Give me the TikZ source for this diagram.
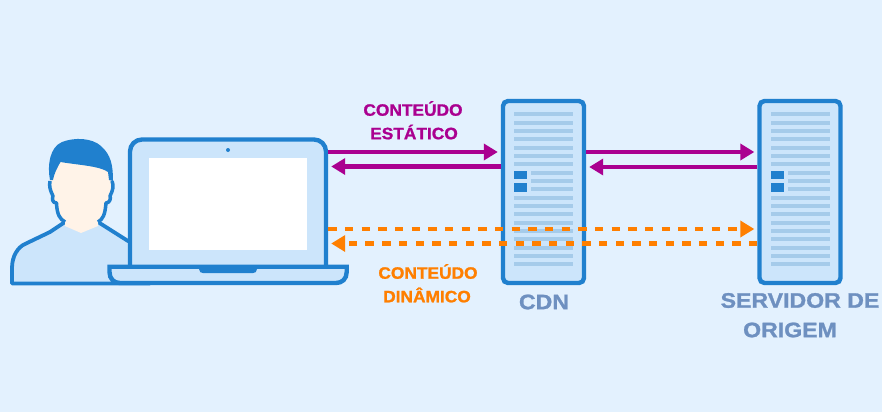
\documentclass[tikz,border=0pt]{standalone}
\usepackage{fontspec}
\newfontfamily\labelfont[FakeStretch=1.05,FakeBold=1.2]{Liberation Sans Bold}
\newfontfamily\hostfont[FakeStretch=1.1,FakeBold=1.2]{Liberation Sans Bold}
\usetikzlibrary{positioning,arrows.meta,calc}
\definecolor{bgblue}{HTML}{E3F1FE}
\definecolor{paleblue}{HTML}{CCE5FB}
\definecolor{iconblue}{HTML}{2080CE}
\definecolor{rowblue}{HTML}{A5CBEA}
\definecolor{skintone}{HTML}{FFF3E8}
\definecolor{staticpurple}{HTML}{AA0090}
\definecolor{dynorange}{HTML}{FF7F00}
\definecolor{slateblue}{HTML}{6E90C0}
\tikzset{
  outline/.style={draw=iconblue,line width=4.4pt,fill=paleblue},
  serverbox/.style={outline,rounded corners=5pt,minimum width=81pt,minimum height=182pt,inner sep=0pt},
  laptopbox/.style={outline,rounded corners=12pt,minimum width=196pt,minimum height=138.5pt,inner sep=0pt},
  staticflow/.style={draw=staticpurple,line width=4.2pt,-{Triangle[length=14pt,width=16pt]},shorten >=3pt},
  dynflow/.style={draw=dynorange,line width=4.2pt,dash pattern=on 8.4pt off 8.27pt,-{Triangle[length=14pt,width=16pt]},shorten >=3pt},
  flowlabel/.style={font=\labelfont\fontsize{16.5}{20}\selectfont,inner sep=0pt},
  hostlabel/.style={font=\hostfont\fontsize{21}{24}\selectfont,text=slateblue,inner sep=0pt},
}
\begin{document}
\begin{tikzpicture}[x=1pt,y=-1pt]
  \useasboundingbox (0,0) rectangle (882,412);
  \fill[bgblue] (0,0) rectangle (882,412);
  % person
  \draw[outline,line width=3.8pt,line join=round] (12,283.5) -- (12,268) .. controls (12,256) and (18,247) .. (25,244)
    -- (50,232) -- (65,222) -- (98,222) -- (128,241) -- (150,241) -- (150,283.5) -- cycle;
  \fill[skintone] (65,222) -- (65,226) -- (81,233) -- (98,226) -- (98,222) -- (105,215) -- (107,203)
    -- (110,200) -- (111,180) -- (108,160) -- (58,160) -- (51,180) -- (52,200) -- (55,203) -- (57,215) -- cycle;
  \draw[iconblue,line width=3.5pt,line join=round] (65,222) .. controls (60,219) and (57,215) .. (56.5,203)
    .. controls (52,203) and (52,198) .. (53,196) .. controls (50,190) and (49,186) .. (50,181);
  \draw[iconblue,line width=3.5pt,line join=round] (98,222) .. controls (103,219) and (105,215) .. (106,203)
    .. controls (110,203) and (111,198) .. (110,196) .. controls (113,190) and (114,186) .. (112,181);
  \fill[iconblue] (50,180) .. controls (47,165) and (50,147) .. (62,142) .. controls (75,137) and (92,138) .. (101,146)
    .. controls (111,155) and (113,165) .. (113,181) -- (109,180) -- (108,172) .. controls (100,166) and (78,165) .. (60.5,162)
    .. controls (57,168) and (54,174) .. (53,180) -- cycle;
  % laptop
  \node[laptopbox] (laptop) at (228,208.75) {};
  \fill[white] (149,158) rectangle (307,250);
  \fill[iconblue] (228,150) circle (2pt);
  \draw[outline] (109.5,266.7) -- (346.7,266.7) -- (346.7,272) .. controls (346.7,279) and (342,283) .. (336,283)
    -- (120,283) .. controls (114,283) and (109.5,279) .. (109.5,272) -- cycle;
  \fill[iconblue] (199,265) -- (257,265) -- (257,269) .. controls (257,272) and (255,273) .. (253,273)
    -- (203,273) .. controls (201,273) and (199,272) .. (199,269) -- cycle;
  % servers
  \foreach \sx/\sname in {543.5/cdn,800/origem}{
    \node[serverbox] (\sname) at (\sx,192) {};
    \begin{scope}[shift={(\sx,0)}]
      \foreach \row in {0,...,18}{
        \ifnum\row=7 \else\ifnum\row=8 \else\ifnum\row=9 \else
          \fill[rowblue] (-29.5,{112.3+8.33*\row}) rectangle (29.5,{116.3+8.33*\row});
        \fi\fi\fi
      }
      \foreach \row in {7,8,9}
        \fill[rowblue] (-12.5,{112.3+8.33*\row}) rectangle (29.5,{116.3+8.33*\row});
      \fill[iconblue] (-29.5,170.7) rectangle (-16.5,179);
      \fill[iconblue] (-29.5,183.3) rectangle (-16.5,191.7);
    \end{scope}
  }
  % flows
  \draw[staticflow] (laptop.east|-0,152) -- (cdn.west|-0,152);
  \draw[staticflow] (cdn.west|-0,166.5) -- (laptop.east|-0,166.5);
  \draw[staticflow] (cdn.east|-0,152) -- (origem.west|-0,152);
  \draw[staticflow] (origem.west|-0,167) -- (cdn.east|-0,167);
  \draw[dynflow] (laptop.east|-0,229) -- (origem.west|-0,229);
  \draw[dynflow] (origem.west|-0,243.5) -- (laptop.east|-0,243.5);
  % labels
  \node[flowlabel,text=staticpurple] (staticup) at (413,108.5) {CONTEÚDO};
  \node[flowlabel,text=staticpurple] (staticlow) at (414,132) {ESTÁTICO};
  \node[flowlabel,text=dynorange] (dynup) at (428,271.5) {CONTEÚDO};
  \node[flowlabel,text=dynorange] (dynlow) at (427,295) {DINÂMICO};
  \node[hostlabel] (cdnname) at (544,302) {CDN};
  \node[hostlabel] (originup) at (800,300.5) {SERVIDOR DE};
  \node[hostlabel] (originlow) at (790,330) {ORIGEM};
\end{tikzpicture}
\end{document}
